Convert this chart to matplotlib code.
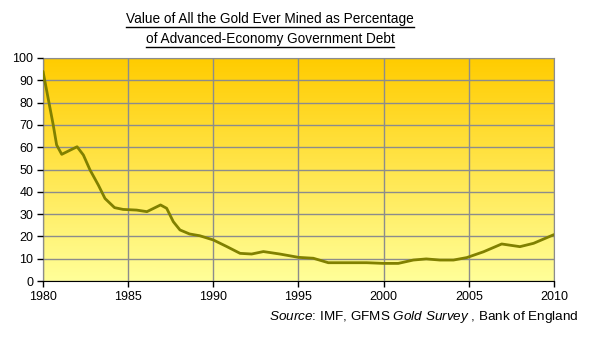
import matplotlib
matplotlib.use("Agg")
import matplotlib.pyplot as plt
import numpy as np
from matplotlib.colors import LinearSegmentedColormap
from matplotlib.lines import Line2D

plt.rcParams['font.family'] = ['Liberation Sans', 'DejaVu Sans']
plt.rcParams['mathtext.fontset'] = 'custom'
plt.rcParams['mathtext.rm'] = 'Liberation Sans'
plt.rcParams['mathtext.it'] = 'Liberation Sans:italic'

# values
years = [1980.0, 1980.3, 1980.6, 1980.8, 1981.1, 1981.6, 1982.0, 1982.37, 1982.76,
         1983.25, 1983.64, 1984.2, 1984.7, 1985.5, 1986.1, 1986.5, 1986.9, 1987.26,
         1987.65, 1988.04, 1988.6, 1989.2, 1990.0, 1990.8, 1991.57, 1992.25, 1992.94,
         1993.9, 1995.0, 1995.87, 1996.75, 1999.0, 2000.0, 2000.86, 2001.74, 2002.5,
         2003.3, 2004.1, 2004.88, 2005.86, 2006.93, 2008.0, 2008.8, 2010.0]
gold_pct = [94, 82, 70, 61, 56.8, 58.7, 60.2, 56.5, 49.8,
            43, 37, 32.9, 32.1, 31.8, 31.1, 32.6, 34.1, 32.6,
            26.6, 22.9, 21.1, 20.3, 18.4, 15.4, 12.4, 12.1, 13.2,
            12.1, 10.6, 10.2, 8.2, 8.2, 7.9, 7.9, 9.4, 9.9,
            9.4, 9.4, 10.5, 13.1, 16.6, 15.4, 16.9, 20.8]
x_ticks = [1980, 1985, 1990, 1995, 2000, 2005, 2010]
y_ticks = list(range(0, 101, 10))

fig = plt.figure(figsize=(6, 3.51), dpi=100)
ax = fig.add_axes([43 / 600, 1 - 281 / 351, 511 / 600, 223 / 351])

# gradient background, gold at top fading to pale yellow
cmap = LinearSegmentedColormap.from_list("bg", ["#FFFF99", "#FFCC00"])
grad = np.linspace(0, 1, 256).reshape(-1, 1)
ax.imshow(grad, cmap=cmap, aspect='auto', origin='lower',
          extent=[0, 1, 0, 1], transform=ax.transAxes, zorder=0)

ax.plot(years, gold_pct, color='#808000', linewidth=2, zorder=3,
        solid_joinstyle='round', solid_capstyle='round')

ax.set_xlim(1980, 2010)
ax.set_ylim(0, 100)
ax.set_xticks(x_ticks)
ax.set_yticks(y_ticks)
ax.grid(True, color='#8c8c8c', linewidth=1, zorder=1)
ax.set_axisbelow(False)
ax.tick_params(labelsize=9, length=4, width=1, color='black', pad=3)
for s in ['top', 'right']:
    ax.spines[s].set_color('#8c8c8c')
for s in ['left', 'bottom']:
    ax.spines[s].set_color('black')

# underlined two-line title
renderer = fig.canvas.get_renderer()
for txt, y in [("Value of All the Gold Ever Mined as Percentage", 1 - 19 / 351),
               ("of Advanced-Economy Government Debt", 1 - 39 / 351)]:
    t = fig.text(270 / 600, y, txt, ha='center', va='center', fontsize=9.8)
    bb = t.get_window_extent(renderer).transformed(fig.transFigure.inverted())
    fig.add_artist(Line2D([bb.x0, bb.x1], [bb.y0 - 0.002, bb.y0 - 0.002],
                          color='black', linewidth=1, transform=fig.transFigure))

fig.text(579 / 600, 1 - 317 / 351,
         r"$\it{Source}$: IMF, GFMS $\it{Gold\ Survey}$ , Bank of England",
         ha='right', va='center', fontsize=9.7)

fig.savefig("out.png", dpi=100)
